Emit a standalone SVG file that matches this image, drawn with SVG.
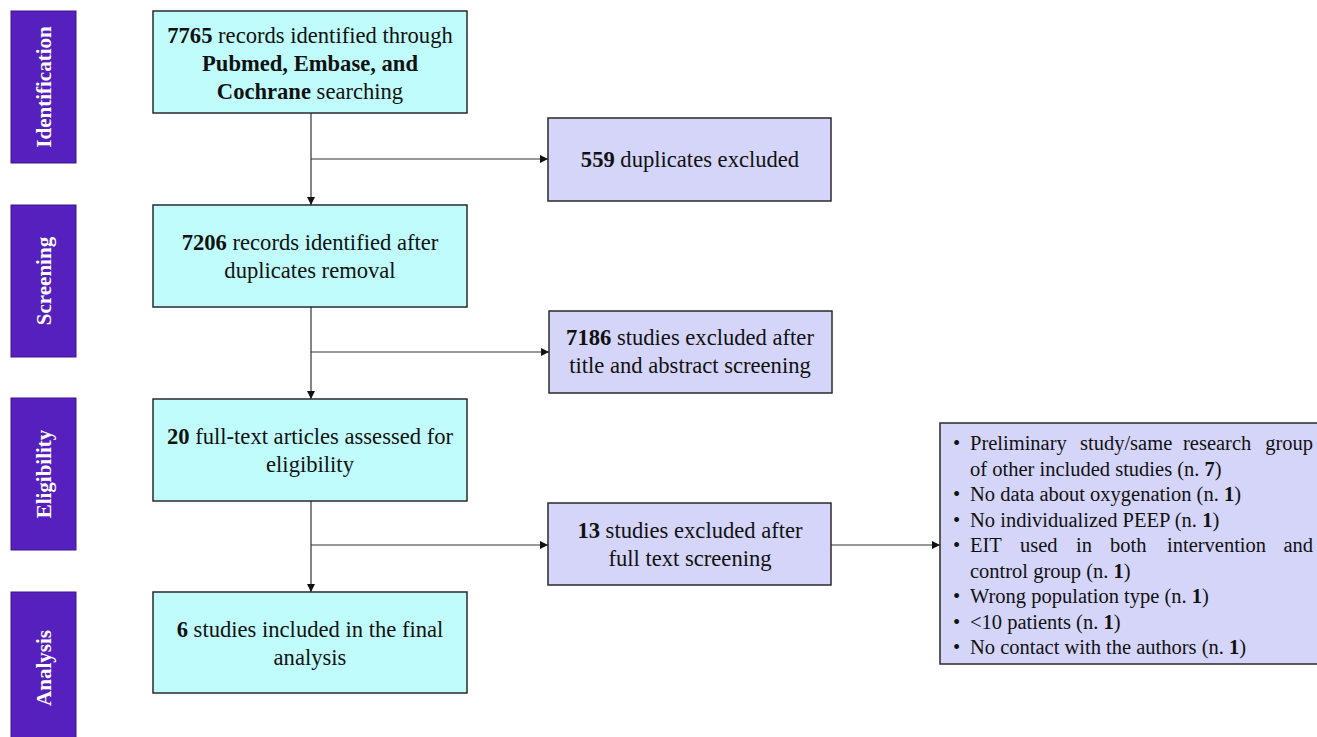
<svg xmlns="http://www.w3.org/2000/svg" width="1317" height="737" viewBox="0 0 1317 737">
<style>
  .phase rect { fill: #5520bd; stroke: #3d1590; stroke-width: 1; }
  .phase text { fill: #ffffff; font-family: "Liberation Serif", serif; font-weight: bold; font-size: 21px; text-anchor: middle; }
  .main rect { fill: #c0fcfc; stroke: #2a2a2a; stroke-width: 1.5; }
  .excl rect { fill: #d5d5fa; stroke: #2a2a2a; stroke-width: 1.5; }
  .t { font-family: "Liberation Serif", serif; font-size: 22.6px; fill: #111111; text-anchor: middle; }
  .lst { font-family: "Liberation Serif", serif; font-size: 20.5px; fill: #111111; }
  .b { font-weight: bold; }
  .conn line { stroke: #333333; stroke-width: 1.2; fill: none; }
</style>
<defs>
  <marker id="arr" viewBox="0 0 10 10" refX="10" refY="5" markerWidth="8" markerHeight="8" markerUnits="userSpaceOnUse" orient="auto">
    <path d="M0,0 L10,5 L0,10 z" fill="#111111"/>
  </marker>
</defs>
<rect width="1317" height="737" fill="#ffffff"/>

<g id="phase-identification" class="phase">
  <rect x="11" y="11" width="65" height="152"/>
  <text transform="translate(51,87) rotate(-90)">Identification</text>
</g>
<g id="phase-screening" class="phase">
  <rect x="11" y="205" width="65" height="152"/>
  <text transform="translate(51,281) rotate(-90)">Screening</text>
</g>
<g id="phase-eligibility" class="phase">
  <rect x="11" y="398" width="65" height="152"/>
  <text transform="translate(51,474) rotate(-90)">Eligibility</text>
</g>
<g id="phase-analysis" class="phase">
  <rect x="11" y="592" width="65" height="160"/>
  <text transform="translate(51,668) rotate(-90)">Analysis</text>
</g>

<g id="conn" class="conn">
  <line x1="311" y1="113" x2="311" y2="205" marker-end="url(#arr)"/>
  <line x1="311" y1="159" x2="548" y2="159" marker-end="url(#arr)"/>
  <line x1="311" y1="307" x2="311" y2="399" marker-end="url(#arr)"/>
  <line x1="311" y1="352" x2="549" y2="352" marker-end="url(#arr)"/>
  <line x1="311" y1="501" x2="311" y2="592" marker-end="url(#arr)"/>
  <line x1="311" y1="545" x2="548" y2="545" marker-end="url(#arr)"/>
  <line x1="831" y1="545" x2="940" y2="545" marker-end="url(#arr)"/>
</g>

<g id="box-records" class="main">
  <rect x="153" y="11" width="314" height="102"/>
  <text class="t" x="310" y="43"><tspan class="b">7765</tspan> records identified through</text>
  <text class="t b" x="310" y="71">Pubmed, Embase, and</text>
  <text class="t" x="310" y="99"><tspan class="b">Cochrane</tspan> searching</text>
</g>
<g id="box-after-dup" class="main">
  <rect x="153" y="205" width="314" height="102"/>
  <text class="t" x="310" y="250"><tspan class="b">7206</tspan> records identified after</text>
  <text class="t" x="310" y="278">duplicates removal</text>
</g>
<g id="box-fulltext" class="main">
  <rect x="153" y="399" width="314" height="102"/>
  <text class="t" x="310" y="444"><tspan class="b">20</tspan> full-text articles assessed for</text>
  <text class="t" x="310" y="472">eligibility</text>
</g>
<g id="box-included" class="main">
  <rect x="153" y="592" width="314" height="101"/>
  <text class="t" x="310" y="637"><tspan class="b">6</tspan> studies included in the final</text>
  <text class="t" x="310" y="665">analysis</text>
</g>

<g id="box-duplicates" class="excl">
  <rect x="548" y="118" width="283" height="83"/>
  <text class="t" x="690" y="167"><tspan class="b">559</tspan> duplicates excluded</text>
</g>
<g id="box-title-abstract" class="excl">
  <rect x="549" y="311" width="283" height="82"/>
  <text class="t" x="690" y="345"><tspan class="b">7186</tspan> studies excluded after</text>
  <text class="t" x="690" y="373">title and abstract screening</text>
</g>
<g id="box-fulltext-excl" class="excl">
  <rect x="548" y="503" width="283" height="82"/>
  <text class="t" x="690" y="538"><tspan class="b">13</tspan> studies excluded after</text>
  <text class="t" x="690" y="566">full text screening</text>
</g>

<g id="box-reasons" class="excl">
  <rect x="940" y="423" width="385" height="241"/>
  <g class="lst">
    <text x="953" y="450">•</text>
    <text y="450"><tspan x="970">Preliminary</tspan><tspan x="1080">study/same</tspan><tspan x="1183">research</tspan></text>
    <text x="1313" y="450" text-anchor="end">group</text>
    <text x="970" y="475.5">of other included studies (n. <tspan class="b">7</tspan>)</text>
    <text x="953" y="501">•</text>
    <text x="970" y="501">No data about oxygenation (n. <tspan class="b">1</tspan>)</text>
    <text x="953" y="526.5">•</text>
    <text x="970" y="526.5">No individualized PEEP (n. <tspan class="b">1</tspan>)</text>
    <text x="953" y="552">•</text>
    <text y="552"><tspan x="970">EIT</tspan><tspan x="1020">used</tspan><tspan x="1076">in</tspan><tspan x="1110">both</tspan><tspan x="1167">intervention</tspan></text>
    <text x="1313" y="552" text-anchor="end">and</text>
    <text x="970" y="577.5">control group (n. <tspan class="b">1</tspan>)</text>
    <text x="953" y="603">•</text>
    <text x="970" y="603">Wrong population type (n. <tspan class="b">1</tspan>)</text>
    <text x="953" y="628.5">•</text>
    <text x="970" y="628.5">&lt;10 patients (n. <tspan class="b">1</tspan>)</text>
    <text x="953" y="654">•</text>
    <text x="970" y="654">No contact with the authors (n. <tspan class="b">1</tspan>)</text>
  </g>
</g>
</svg>
